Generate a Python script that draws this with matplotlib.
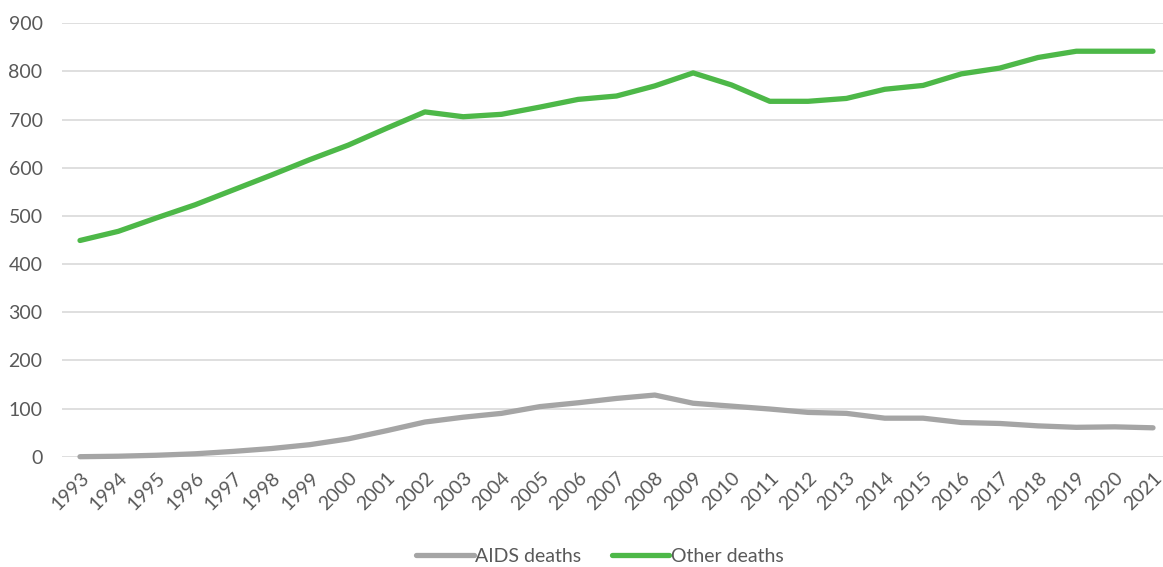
import matplotlib
matplotlib.use("Agg")
import matplotlib.pyplot as plt

years = list(range(1993, 2022))
aids_deaths = [0, 1, 3, 6, 11, 17, 25, 37, 54, 72, 82, 90, 104, 112, 121, 128,
               111, 105, 99, 92, 90, 80, 80, 71, 69, 64, 61, 62, 60]
other_deaths = [449, 468, 496, 523, 554, 585, 617, 647, 682, 716, 706, 711, 726,
                742, 749, 770, 797, 772, 738, 738, 744, 763, 771, 795, 807, 829,
                842, 842, 842]
y_ticks = [0, 100, 200, 300, 400, 500, 600, 700, 800, 900]

GRAY = "#a5a5a5"
GREEN = "#4db848"
TEXT = "#595959"
GRID = "#d9d9d9"

plt.rcParams["font.family"] = ["Lato", "DejaVu Sans"]

fig = plt.figure(figsize=(11.63, 5.67), dpi=100)
ax = fig.add_axes([62 / 1163, 1 - 456.7 / 567, 1 - 62 / 1163, (456.7 - 23.3) / 567])

ax.plot(years, aids_deaths, color=GRAY, lw=3.8, solid_capstyle="round",
        solid_joinstyle="round", label="AIDS deaths", clip_on=False, zorder=3)
ax.plot(years, other_deaths, color=GREEN, lw=3.8, solid_capstyle="round",
        solid_joinstyle="round", label="Other deaths", clip_on=False, zorder=3)

ax.set_ylim(0, 900)
ax.set_xlim(1993 - 18 / 38.32, 2021 + 10 / 38.32)
ax.set_yticks(y_ticks)
ax.set_xticks(years)
ax.set_xticklabels([str(y) for y in years], rotation=45, ha="right",
                   rotation_mode="anchor")
ax.grid(axis="y", color=GRID, lw=1.2)
ax.set_axisbelow(True)
for s in ax.spines.values():
    s.set_visible(False)
ax.tick_params(axis="both", length=0, colors=TEXT, labelsize=14)
ax.tick_params(axis="y", pad=14)
ax.tick_params(axis="x", pad=9)

leg = fig.legend(loc="center", bbox_to_anchor=(600 / 1163, 1 - 556 / 567),
                 ncol=2, frameon=False, fontsize=14, handlelength=2.95,
                 handletextpad=0.1, columnspacing=1.55, labelcolor=TEXT)

fig.savefig("out.png", dpi=100)
